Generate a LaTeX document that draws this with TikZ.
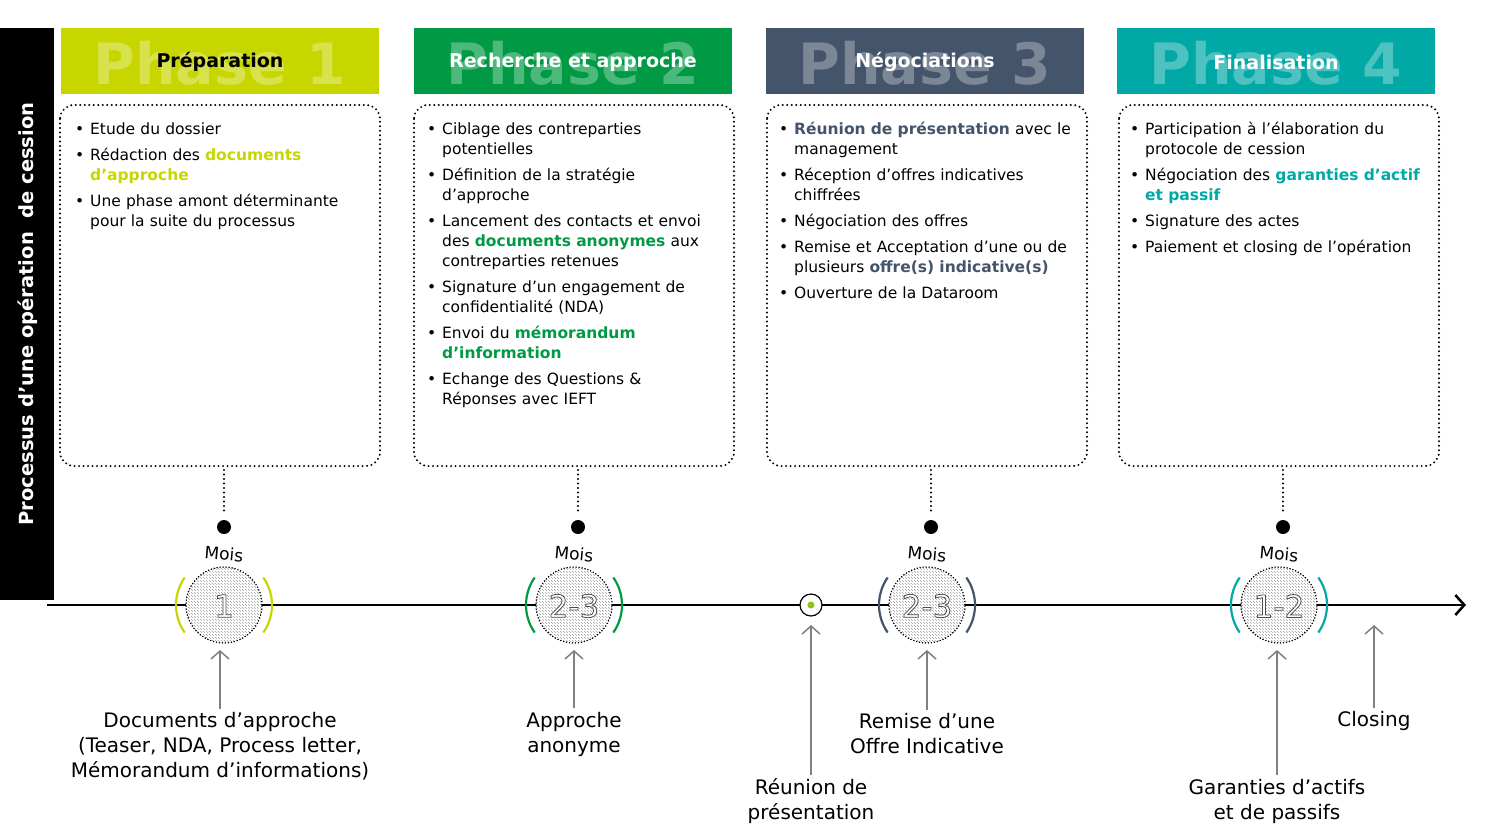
\documentclass[tikz,border=0pt]{standalone}
\usepackage{fontspec}
\setmainfont{DejaVu Sans}
\usetikzlibrary{arrows.meta,positioning,patterns}
\definecolor{phlime}{RGB}{200,214,0}
\definecolor{phgreen}{RGB}{0,154,68}
\definecolor{phslate}{RGB}{68,84,106}
\definecolor{phteal}{RGB}{0,169,165}
\newcommand\nohyph{\hyphenpenalty=10000 \exhyphenpenalty=10000 }
\newcommand\bul[1]{\par\hangindent=15pt\hangafter=1\noindent\makebox[15pt][l]{\textbullet}#1\par\vspace{6pt}}
\newcommand\hl[2]{\textcolor{#1}{\textbf{#2}}}
\newcommand\outl[1]{\special{pdf:literal direct 0.3 G 0.8 w 2 Tr}#1\special{pdf:literal direct 0 Tr}}
\begin{document}
\begin{tikzpicture}[x=1pt,y=-1pt,
  headbox/.style={minimum width=318pt, minimum height=66pt, inner sep=0pt},
  bignum/.style={font=\bfseries\fontsize{57}{57}\selectfont, text=white, opacity=0.3},
  headtext/.style={font=\bfseries\fontsize{19}{19}\selectfont},
  listbox/.style={anchor=north west, text width=292pt, align=left, inner sep=0pt,
    font=\fontsize{15.5}{20}\selectfont\nohyph},
  dotbox/.style={draw, line width=2.2pt, line cap=round, dash pattern=on 0pt off 4.5pt, rounded corners=14pt},
  month/.style={circle, draw, line width=1pt, dash pattern=on 1pt off 2pt, minimum size=76pt, pattern=north west lines, pattern color=gray!80},
  upar/.style={draw=gray, line width=1.5pt, -{Straight Barb[length=8pt, width=18pt]}},
  lbl/.style={align=center, font=\fontsize{20}{25}\selectfont}]
\useasboundingbox (0,0) rectangle (1485,839);
% Side bar
\fill (0,28) rectangle (54,600);
\node[rotate=90, text=white, font=\bfseries\fontsize{19.5}{20}\selectfont] (side) at (28,314) {Processus d’une opération \ de cession};
% Headers
\foreach \cx/\col/\n/\tt/\tc in {220/phlime/1/Préparation/black, 573/phgreen/2/Recherche et approche/white,
  925/phslate/3/Négociations/white, 1276/phteal/4/Finalisation/white}{
  \node[headbox, fill=\col] (head\n) at (\cx,61) {};
  \node[bignum] at (\cx,63) {Phase \n};
  \node[headtext, text=\tc] at (\cx,62) {\tt};
}
% Dotted boxes, connectors and dots
\foreach \cx/\n in {220/1,574/2,927/3,1279/4}{
  \draw[dotbox] (\cx-160,105) rectangle (\cx+160,466);
  \draw[dotbox] (\cx+4,470) -- (\cx+4,514);
  \fill (\cx+4,527) circle (7pt);
}
% Lists
\node[listbox] (list1) at (75,114) {
  \bul{Etude du dossier}
  \bul{Rédaction des \hl{phlime}{documents d’approche}}
  \bul{Une phase amont déterminante pour la suite du processus}};
\node[listbox] (list2) at (427,114) {
  \bul{Ciblage des contreparties potentielles}
  \bul{Définition de la stratégie d’approche}
  \bul{Lancement des contacts et envoi des \hl{phgreen}{documents anonymes} aux contreparties retenues}
  \bul{Signature d’un engagement de confidentialité (NDA)}
  \bul{Envoi du \hl{phgreen}{mémorandum d’information}}
  \bul{Echange des Questions \& Réponses avec IEFT}};
\node[listbox] (list3) at (779,114) {
  \bul{\hl{phslate}{Réunion de présentation} avec le management}
  \bul{Réception d’offres indicatives chiffrées}
  \bul{Négociation des offres}
  \bul{Remise et Acceptation d’une ou de plusieurs \hl{phslate}{offre(s) indicative(s)}}
  \bul{Ouverture de la Dataroom}};
\node[listbox] (list4) at (1130,114) {
  \bul{Participation à l’élaboration du protocole de cession}
  \bul{Négociation des \hl{phteal}{garanties d’actif et passif}}
  \bul{Signature des actes}
  \bul{Paiement et closing de l’opération}};
% Timeline
\coordinate (tstart) at (47,605);
\coordinate (tend) at (1466,605);
\draw[line width=2.5pt, -{Straight Barb[length=9pt, width=20pt]}] (tstart) -- (tend);
% Month circles
\foreach \cx/\col/\m/\n in {224/phlime/1/1, 574/phgreen/2-3/2, 927/phslate/2-3/3, 1279/phteal/1-2/4}{
  \node[month, fill=white] (mois\n) at (\cx,605) {};
  \node[month] at (\cx,605) {};
  \node[font=\fontsize{31}{31}\selectfont, text=white] at (\cx,606) {\outl{\m}};
  \draw[\col, line width=2.2pt] (\cx,605) ++(145:48) arc (145:215:48);
  \draw[\col, line width=2.2pt] (\cx,605) ++(35:48) arc (35:-35:48);
  \node[rotate=-5, font=\fontsize{17}{17}\selectfont] at (\cx,554) {Mois};
}
\node[circle, draw, line width=1.2pt, fill=white, minimum size=22pt, inner sep=0pt] (meet) at (811,605) {};
\fill[phlime!70!phgreen] (meet) circle (3.5pt);
% Labels and arrows
\node[lbl] (lab1) at (220,746) {Documents d’approche\\(Teaser, NDA, Process letter,\\Mémorandum d’informations)};
\node[lbl] (lab2) at (574,734) {Approche\\anonyme};
\node[lbl] (lab3) at (811,801) {Réunion de\\présentation};
\node[lbl] (lab4) at (927,734) {Remise d’une\\Offre Indicative};
\node[lbl] (lab5) at (1277,801) {Garanties d’actifs\\et de passifs};
\node[lbl] (lab6) at (1374,721) {Closing};
\draw[upar] (lab1.north) -- (220,650);
\draw[upar] (lab2.north) -- (574,650);
\draw[upar] (lab3.north) -- (811,625);
\draw[upar] (lab4.north) -- (927,650);
\draw[upar] (lab5.north) -- (1277,650);
\draw[upar] (lab6.north) -- (1374,625);
\end{tikzpicture}
\end{document}
